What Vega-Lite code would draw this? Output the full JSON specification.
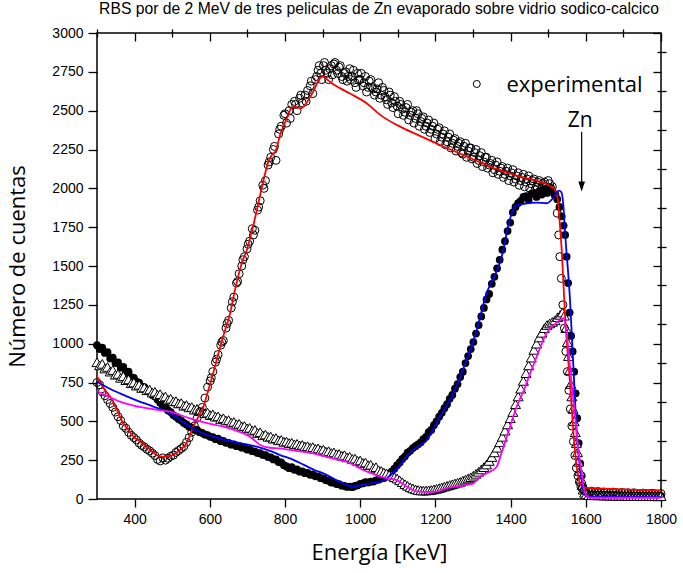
{
"$schema": "https://vega.github.io/schema/vega-lite/v6.json",
"width": 564, "height": 466,
"autosize": {"type": "none"},
"padding": {"left": 97, "top": 33, "right": 22, "bottom": 74},
"background": "white",
"title": {"text": "RBS por  de 2 MeV de tres peliculas de Zn evaporado sobre vidrio sodico-calcico", "font": "Liberation Sans", "fontSize": 15.7, "fontWeight": "normal", "color": "black", "anchor": "middle", "offset": 8},
"config": {"view": {"stroke": "black", "strokeWidth": 1.5}, "axis": {"grid": false, "domain": false, "labelFlush": false, "format": "d", "tickColor": "black", "tickWidth": 1.3, "labelColor": "black", "labelFont": "Liberation Sans", "labelFontSize": 14, "titleFont": "Open Sans", "titleFontSize": 22, "titleFontWeight": "normal", "titleColor": "black"}},
"datasets": {
"o": [{"e":300,"c":750},{"e":307,"c":735},{"e":314,"c":690},{"e":321,"c":665},{"e":328,"c":640},{"e":335,"c":615},{"e":342,"c":590},{"e":349,"c":560},{"e":356,"c":530},{"e":363,"c":505},{"e":370,"c":470},{"e":377,"c":455},{"e":384,"c":430},{"e":391,"c":410},{"e":398,"c":395},{"e":405,"c":380},{"e":412,"c":360},{"e":419,"c":345},{"e":426,"c":335},{"e":433,"c":320},{"e":440,"c":310},{"e":447,"c":295},{"e":454,"c":280},{"e":461,"c":255},{"e":468,"c":245},{"e":475,"c":265},{"e":482,"c":250},{"e":489,"c":262},{"e":496,"c":275},{"e":503,"c":282},{"e":510,"c":300},{"e":517,"c":312},{"e":524,"c":325},{"e":531,"c":338},{"e":538,"c":365},{"e":545,"c":395},{"e":552,"c":430},{"e":559,"c":470},{"e":566,"c":520},{"e":573,"c":560},{"e":580,"c":590},{"e":587,"c":650},{"e":594,"c":720},{"e":601,"c":760},{"e":604,"c":780},{"e":608,"c":820},{"e":615,"c":880},{"e":618,"c":900},{"e":622,"c":930},{"e":629,"c":990},{"e":632,"c":1010},{"e":636,"c":1020},{"e":643,"c":1100},{"e":646,"c":1130},{"e":650,"c":1150},{"e":657,"c":1230},{"e":660,"c":1270},{"e":664,"c":1300},{"e":671,"c":1390},{"e":674,"c":1400},{"e":678,"c":1450},{"e":685,"c":1500},{"e":688,"c":1540},{"e":692,"c":1560},{"e":699,"c":1610},{"e":702,"c":1640},{"e":706,"c":1660},{"e":713,"c":1740},{"e":716,"c":1700},{"e":720,"c":1730},{"e":727,"c":1860},{"e":730,"c":1880},{"e":734,"c":1920},{"e":741,"c":2020},{"e":744,"c":2000},{"e":748,"c":2050},{"e":755,"c":2150},{"e":758,"c":2170},{"e":762,"c":2200},{"e":769,"c":2250},{"e":772,"c":2270},{"e":776,"c":2180},{"e":783,"c":2350},{"e":786,"c":2380},{"e":790,"c":2400},{"e":797,"c":2470},{"e":800,"c":2480},{"e":804,"c":2420},{"e":811,"c":2500},{"e":814,"c":2450},{"e":818,"c":2540},{"e":825,"c":2560},{"e":828,"c":2540},{"e":832,"c":2500},{"e":839,"c":2580},{"e":842,"c":2600},{"e":846,"c":2550},{"e":853,"c":2600},{"e":856,"c":2560},{"e":860,"c":2630},{"e":867,"c":2660},{"e":870,"c":2690},{"e":874,"c":2610},{"e":881,"c":2700},{"e":884,"c":2720},{"e":888,"c":2760},{"e":891,"c":2790},{"e":895,"c":2740},{"e":898,"c":2700},{"e":902,"c":2790},{"e":905,"c":2810},{"e":909,"c":2760},{"e":912,"c":2740},{"e":916,"c":2700},{"e":919,"c":2770},{"e":923,"c":2790},{"e":926,"c":2730},{"e":930,"c":2800},{"e":933,"c":2810},{"e":937,"c":2760},{"e":940,"c":2740},{"e":944,"c":2780},{"e":947,"c":2790},{"e":951,"c":2720},{"e":954,"c":2700},{"e":958,"c":2740},{"e":961,"c":2750},{"e":965,"c":2690},{"e":968,"c":2720},{"e":972,"c":2770},{"e":975,"c":2700},{"e":979,"c":2720},{"e":982,"c":2760},{"e":986,"c":2680},{"e":989,"c":2650},{"e":993,"c":2740},{"e":996,"c":2700},{"e":1000,"c":2700},{"e":1003,"c":2740},{"e":1007,"c":2660},{"e":1010,"c":2680},{"e":1014,"c":2720},{"e":1017,"c":2620},{"e":1021,"c":2650},{"e":1024,"c":2690},{"e":1028,"c":2700},{"e":1031,"c":2650},{"e":1035,"c":2640},{"e":1038,"c":2600},{"e":1042,"c":2620},{"e":1045,"c":2640},{"e":1049,"c":2680},{"e":1052,"c":2580},{"e":1056,"c":2600},{"e":1059,"c":2650},{"e":1063,"c":2630},{"e":1066,"c":2590},{"e":1070,"c":2570},{"e":1073,"c":2540},{"e":1077,"c":2620},{"e":1080,"c":2600},{"e":1084,"c":2550},{"e":1087,"c":2520},{"e":1091,"c":2590},{"e":1094,"c":2560},{"e":1098,"c":2530},{"e":1101,"c":2480},{"e":1105,"c":2560},{"e":1108,"c":2540},{"e":1112,"c":2510},{"e":1115,"c":2470},{"e":1119,"c":2490},{"e":1122,"c":2520},{"e":1126,"c":2540},{"e":1129,"c":2440},{"e":1133,"c":2470},{"e":1136,"c":2490},{"e":1140,"c":2500},{"e":1143,"c":2420},{"e":1147,"c":2450},{"e":1150,"c":2500},{"e":1154,"c":2480},{"e":1157,"c":2400},{"e":1161,"c":2430},{"e":1164,"c":2450},{"e":1168,"c":2460},{"e":1171,"c":2380},{"e":1175,"c":2400},{"e":1178,"c":2420},{"e":1182,"c":2440},{"e":1185,"c":2360},{"e":1189,"c":2380},{"e":1192,"c":2400},{"e":1196,"c":2420},{"e":1199,"c":2320},{"e":1203,"c":2350},{"e":1206,"c":2380},{"e":1210,"c":2390},{"e":1213,"c":2300},{"e":1217,"c":2330},{"e":1220,"c":2350},{"e":1224,"c":2370},{"e":1227,"c":2280},{"e":1231,"c":2300},{"e":1234,"c":2330},{"e":1238,"c":2350},{"e":1241,"c":2260},{"e":1245,"c":2290},{"e":1248,"c":2310},{"e":1252,"c":2320},{"e":1255,"c":2240},{"e":1259,"c":2270},{"e":1262,"c":2290},{"e":1266,"c":2300},{"e":1269,"c":2230},{"e":1273,"c":2220},{"e":1276,"c":2270},{"e":1280,"c":2290},{"e":1283,"c":2200},{"e":1287,"c":2240},{"e":1290,"c":2260},{"e":1294,"c":2260},{"e":1297,"c":2190},{"e":1301,"c":2200},{"e":1304,"c":2230},{"e":1308,"c":2250},{"e":1311,"c":2160},{"e":1315,"c":2180},{"e":1318,"c":2210},{"e":1322,"c":2230},{"e":1325,"c":2140},{"e":1329,"c":2170},{"e":1332,"c":2200},{"e":1336,"c":2200},{"e":1339,"c":2130},{"e":1343,"c":2150},{"e":1346,"c":2160},{"e":1350,"c":2180},{"e":1353,"c":2100},{"e":1357,"c":2120},{"e":1360,"c":2150},{"e":1364,"c":2170},{"e":1367,"c":2090},{"e":1371,"c":2110},{"e":1374,"c":2130},{"e":1378,"c":2140},{"e":1381,"c":2070},{"e":1385,"c":2090},{"e":1388,"c":2110},{"e":1392,"c":2130},{"e":1395,"c":2050},{"e":1399,"c":2080},{"e":1402,"c":2100},{"e":1406,"c":2120},{"e":1409,"c":2040},{"e":1413,"c":2060},{"e":1416,"c":2080},{"e":1420,"c":2100},{"e":1423,"c":2020},{"e":1427,"c":2050},{"e":1430,"c":2070},{"e":1434,"c":2090},{"e":1437,"c":2010},{"e":1441,"c":2040},{"e":1444,"c":2060},{"e":1448,"c":2080},{"e":1451,"c":2000},{"e":1455,"c":2030},{"e":1458,"c":2050},{"e":1462,"c":2060},{"e":1465,"c":1990},{"e":1469,"c":2010},{"e":1472,"c":2040},{"e":1476,"c":2050},{"e":1479,"c":1980},{"e":1483,"c":2000},{"e":1486,"c":2030},{"e":1490,"c":2040},{"e":1493,"c":2010},{"e":1497,"c":1990},{"e":1500,"c":2050},{"e":1504,"c":2030},{"e":1507,"c":2000},{"e":1511,"c":2010},{"e":1518,"c":1960},{"e":1524,"c":1840},{"e":1528,"c":1700},{"e":1531,"c":1560},{"e":1535,"c":1420},{"e":1539,"c":1250},{"e":1543,"c":1100},{"e":1547,"c":950},{"e":1551,"c":820},{"e":1555,"c":700},{"e":1559,"c":580},{"e":1563,"c":470},{"e":1567,"c":370},{"e":1571,"c":280},{"e":1575,"c":200},{"e":1579,"c":150},{"e":1583,"c":110},{"e":1587,"c":80},{"e":1591,"c":65},{"e":1595,"c":55},{"e":1600,"c":50},{"e":1608,"c":45},{"e":1616,"c":50},{"e":1624,"c":42},{"e":1632,"c":48},{"e":1640,"c":40},{"e":1648,"c":45},{"e":1656,"c":42},{"e":1664,"c":38},{"e":1672,"c":44},{"e":1680,"c":40},{"e":1688,"c":36},{"e":1696,"c":42},{"e":1704,"c":38},{"e":1712,"c":40},{"e":1720,"c":35},{"e":1728,"c":40},{"e":1736,"c":37},{"e":1744,"c":34},{"e":1752,"c":38},{"e":1760,"c":35},{"e":1768,"c":33},{"e":1776,"c":37},{"e":1784,"c":34},{"e":1792,"c":32},{"e":1800,"c":35}],
"f": [{"e":300,"c":990},{"e":307,"c":965},{"e":314,"c":975},{"e":321,"c":940},{"e":328,"c":945},{"e":335,"c":905},{"e":342,"c":910},{"e":349,"c":875},{"e":356,"c":880},{"e":363,"c":845},{"e":370,"c":850},{"e":377,"c":815},{"e":384,"c":820},{"e":391,"c":785},{"e":398,"c":780},{"e":405,"c":755},{"e":412,"c":750},{"e":419,"c":725},{"e":426,"c":720},{"e":433,"c":695},{"e":440,"c":690},{"e":447,"c":670},{"e":454,"c":660},{"e":461,"c":640},{"e":468,"c":620},{"e":475,"c":600},{"e":482,"c":590},{"e":489,"c":570},{"e":496,"c":560},{"e":503,"c":540},{"e":510,"c":530},{"e":517,"c":515},{"e":524,"c":505},{"e":531,"c":490},{"e":538,"c":480},{"e":545,"c":465},{"e":552,"c":460},{"e":559,"c":445},{"e":566,"c":445},{"e":573,"c":430},{"e":580,"c":425},{"e":587,"c":415},{"e":594,"c":412},{"e":601,"c":400},{"e":608,"c":398},{"e":615,"c":385},{"e":622,"c":388},{"e":629,"c":372},{"e":636,"c":375},{"e":643,"c":362},{"e":650,"c":362},{"e":657,"c":350},{"e":664,"c":352},{"e":671,"c":340},{"e":678,"c":342},{"e":685,"c":330},{"e":692,"c":332},{"e":699,"c":318},{"e":706,"c":320},{"e":713,"c":308},{"e":720,"c":305},{"e":727,"c":296},{"e":734,"c":295},{"e":741,"c":284},{"e":748,"c":282},{"e":755,"c":270},{"e":762,"c":268},{"e":769,"c":255},{"e":776,"c":255},{"e":783,"c":238},{"e":790,"c":235},{"e":797,"c":218},{"e":804,"c":210},{"e":811,"c":198},{"e":818,"c":205},{"e":825,"c":188},{"e":832,"c":190},{"e":839,"c":176},{"e":846,"c":178},{"e":853,"c":166},{"e":860,"c":168},{"e":867,"c":156},{"e":874,"c":158},{"e":881,"c":146},{"e":888,"c":146},{"e":895,"c":134},{"e":902,"c":132},{"e":909,"c":120},{"e":916,"c":118},{"e":923,"c":106},{"e":930,"c":106},{"e":937,"c":96},{"e":944,"c":95},{"e":951,"c":86},{"e":958,"c":85},{"e":965,"c":78},{"e":972,"c":80},{"e":979,"c":76},{"e":986,"c":84},{"e":993,"c":88},{"e":1000,"c":98},{"e":1007,"c":100},{"e":1014,"c":108},{"e":1021,"c":106},{"e":1028,"c":112},{"e":1035,"c":112},{"e":1042,"c":120},{"e":1049,"c":124},{"e":1056,"c":132},{"e":1063,"c":135},{"e":1070,"c":148},{"e":1077,"c":160},{"e":1084,"c":178},{"e":1091,"c":195},{"e":1098,"c":218},{"e":1105,"c":235},{"e":1112,"c":258},{"e":1119,"c":275},{"e":1126,"c":298},{"e":1133,"c":310},{"e":1140,"c":328},{"e":1147,"c":340},{"e":1154,"c":352},{"e":1161,"c":365},{"e":1168,"c":385},{"e":1175,"c":400},{"e":1182,"c":430},{"e":1189,"c":445},{"e":1196,"c":475},{"e":1203,"c":500},{"e":1210,"c":530},{"e":1217,"c":555},{"e":1224,"c":585},{"e":1231,"c":610},{"e":1238,"c":645},{"e":1245,"c":670},{"e":1252,"c":710},{"e":1259,"c":740},{"e":1266,"c":785},{"e":1273,"c":820},{"e":1280,"c":875},{"e":1287,"c":920},{"e":1294,"c":965},{"e":1301,"c":1010},{"e":1308,"c":1065},{"e":1315,"c":1120},{"e":1322,"c":1175},{"e":1329,"c":1230},{"e":1336,"c":1285},{"e":1343,"c":1320},{"e":1350,"c":1385},{"e":1357,"c":1430},{"e":1364,"c":1485},{"e":1371,"c":1540},{"e":1378,"c":1605},{"e":1385,"c":1660},{"e":1392,"c":1725},{"e":1399,"c":1780},{"e":1406,"c":1845},{"e":1413,"c":1880},{"e":1420,"c":1905},{"e":1427,"c":1920},{"e":1434,"c":1945},{"e":1441,"c":1950},{"e":1448,"c":1925},{"e":1455,"c":1965},{"e":1462,"c":1970},{"e":1469,"c":1945},{"e":1476,"c":1980},{"e":1483,"c":1960},{"e":1490,"c":1995},{"e":1497,"c":1970},{"e":1504,"c":2005},{"e":1511,"c":1980},{"e":1518,"c":1955},{"e":1524,"c":1930},{"e":1530,"c":1880},{"e":1536,"c":1820},{"e":1541,"c":1760},{"e":1545,"c":1700},{"e":1549,"c":1560},{"e":1553,"c":1390},{"e":1557,"c":1200},{"e":1561,"c":1050},{"e":1565,"c":950},{"e":1569,"c":820},{"e":1573,"c":680},{"e":1577,"c":520},{"e":1581,"c":360},{"e":1585,"c":230},{"e":1589,"c":150},{"e":1593,"c":80},{"e":1597,"c":50},{"e":1601,"c":35},{"e":1608,"c":30},{"e":1616,"c":28},{"e":1624,"c":30},{"e":1632,"c":26},{"e":1640,"c":28},{"e":1648,"c":25},{"e":1656,"c":27},{"e":1664,"c":24},{"e":1672,"c":26},{"e":1680,"c":23},{"e":1688,"c":25},{"e":1696,"c":22},{"e":1704,"c":24},{"e":1712,"c":22},{"e":1720,"c":23},{"e":1728,"c":21},{"e":1736,"c":22},{"e":1744,"c":20},{"e":1752,"c":22},{"e":1760,"c":20},{"e":1768,"c":21},{"e":1776,"c":19},{"e":1784,"c":20},{"e":1792,"c":19},{"e":1800,"c":20}],
"t": [{"e":300,"c":880},{"e":307,"c":860},{"e":314,"c":870},{"e":321,"c":840},{"e":328,"c":850},{"e":335,"c":820},{"e":342,"c":830},{"e":349,"c":800},{"e":356,"c":805},{"e":363,"c":780},{"e":370,"c":790},{"e":377,"c":765},{"e":384,"c":770},{"e":391,"c":745},{"e":398,"c":750},{"e":405,"c":730},{"e":412,"c":735},{"e":419,"c":715},{"e":426,"c":718},{"e":433,"c":700},{"e":440,"c":705},{"e":447,"c":685},{"e":454,"c":690},{"e":461,"c":670},{"e":468,"c":675},{"e":475,"c":655},{"e":482,"c":660},{"e":489,"c":640},{"e":496,"c":645},{"e":503,"c":628},{"e":510,"c":630},{"e":517,"c":615},{"e":524,"c":618},{"e":531,"c":600},{"e":538,"c":605},{"e":545,"c":590},{"e":552,"c":592},{"e":559,"c":575},{"e":566,"c":580},{"e":573,"c":565},{"e":580,"c":566},{"e":587,"c":552},{"e":594,"c":556},{"e":601,"c":540},{"e":608,"c":545},{"e":615,"c":530},{"e":622,"c":532},{"e":629,"c":515},{"e":636,"c":520},{"e":643,"c":505},{"e":650,"c":508},{"e":657,"c":492},{"e":664,"c":496},{"e":671,"c":480},{"e":678,"c":484},{"e":685,"c":468},{"e":692,"c":470},{"e":699,"c":455},{"e":706,"c":458},{"e":713,"c":440},{"e":720,"c":445},{"e":727,"c":425},{"e":734,"c":430},{"e":741,"c":410},{"e":748,"c":415},{"e":755,"c":400},{"e":762,"c":402},{"e":769,"c":388},{"e":776,"c":392},{"e":783,"c":378},{"e":790,"c":380},{"e":797,"c":368},{"e":804,"c":370},{"e":811,"c":360},{"e":818,"c":362},{"e":825,"c":352},{"e":832,"c":355},{"e":839,"c":345},{"e":846,"c":348},{"e":853,"c":338},{"e":860,"c":340},{"e":867,"c":330},{"e":874,"c":334},{"e":881,"c":322},{"e":888,"c":326},{"e":895,"c":314},{"e":902,"c":318},{"e":909,"c":305},{"e":916,"c":308},{"e":923,"c":296},{"e":930,"c":300},{"e":937,"c":288},{"e":944,"c":290},{"e":951,"c":278},{"e":958,"c":282},{"e":965,"c":268},{"e":972,"c":272},{"e":979,"c":258},{"e":986,"c":260},{"e":993,"c":245},{"e":1000,"c":248},{"e":1007,"c":232},{"e":1014,"c":235},{"e":1021,"c":218},{"e":1028,"c":220},{"e":1035,"c":200},{"e":1042,"c":205},{"e":1049,"c":185},{"e":1056,"c":180},{"e":1063,"c":170},{"e":1070,"c":165},{"e":1077,"c":155},{"e":1084,"c":150},{"e":1091,"c":140},{"e":1098,"c":132},{"e":1105,"c":120},{"e":1112,"c":108},{"e":1119,"c":95},{"e":1126,"c":85},{"e":1133,"c":75},{"e":1140,"c":68},{"e":1147,"c":62},{"e":1154,"c":58},{"e":1161,"c":55},{"e":1168,"c":54},{"e":1175,"c":55},{"e":1182,"c":56},{"e":1189,"c":58},{"e":1196,"c":62},{"e":1203,"c":65},{"e":1210,"c":70},{"e":1217,"c":75},{"e":1224,"c":80},{"e":1231,"c":85},{"e":1238,"c":90},{"e":1245,"c":95},{"e":1252,"c":100},{"e":1259,"c":105},{"e":1266,"c":110},{"e":1273,"c":118},{"e":1280,"c":125},{"e":1287,"c":132},{"e":1294,"c":140},{"e":1301,"c":150},{"e":1308,"c":162},{"e":1315,"c":175},{"e":1322,"c":190},{"e":1329,"c":205},{"e":1336,"c":222},{"e":1343,"c":245},{"e":1350,"c":270},{"e":1357,"c":300},{"e":1364,"c":330},{"e":1371,"c":365},{"e":1378,"c":400},{"e":1385,"c":440},{"e":1392,"c":480},{"e":1399,"c":520},{"e":1406,"c":560},{"e":1413,"c":610},{"e":1420,"c":660},{"e":1427,"c":710},{"e":1434,"c":760},{"e":1441,"c":810},{"e":1448,"c":860},{"e":1455,"c":910},{"e":1462,"c":960},{"e":1469,"c":1000},{"e":1476,"c":1040},{"e":1483,"c":1070},{"e":1490,"c":1100},{"e":1497,"c":1120},{"e":1504,"c":1130},{"e":1511,"c":1140},{"e":1518,"c":1150},{"e":1525,"c":1170},{"e":1532,"c":1185},{"e":1538,"c":1200},{"e":1543,"c":1180},{"e":1547,"c":1100},{"e":1551,"c":1010},{"e":1554,"c":920},{"e":1557,"c":830},{"e":1560,"c":740},{"e":1563,"c":660},{"e":1566,"c":580},{"e":1569,"c":500},{"e":1572,"c":430},{"e":1575,"c":360},{"e":1578,"c":300},{"e":1581,"c":240},{"e":1584,"c":180},{"e":1587,"c":130},{"e":1590,"c":90},{"e":1593,"c":60},{"e":1597,"c":40},{"e":1601,"c":30},{"e":1608,"c":25},{"e":1616,"c":24},{"e":1624,"c":25},{"e":1632,"c":23},{"e":1640,"c":24},{"e":1648,"c":22},{"e":1656,"c":23},{"e":1664,"c":21},{"e":1672,"c":22},{"e":1680,"c":20},{"e":1688,"c":21},{"e":1696,"c":20},{"e":1704,"c":21},{"e":1712,"c":19},{"e":1720,"c":20},{"e":1728,"c":19},{"e":1736,"c":20},{"e":1744,"c":18},{"e":1752,"c":19},{"e":1760,"c":18},{"e":1768,"c":19},{"e":1776,"c":18},{"e":1784,"c":18},{"e":1792,"c":17},{"e":1800,"c":18}],
"r": [{"e":300,"c":790},{"e":310,"c":745},{"e":320,"c":705},{"e":335,"c":659},{"e":350,"c":590},{"e":370,"c":487},{"e":385,"c":440},{"e":397,"c":401},{"e":415,"c":370},{"e":432,"c":337},{"e":445,"c":310},{"e":459,"c":283},{"e":475,"c":272},{"e":494,"c":277},{"e":508,"c":292},{"e":521,"c":316},{"e":530,"c":335},{"e":538,"c":359},{"e":547,"c":410},{"e":556,"c":466},{"e":570,"c":530},{"e":583,"c":594},{"e":596,"c":700},{"e":609,"c":809},{"e":622,"c":930},{"e":636,"c":1050},{"e":654,"c":1196},{"e":667,"c":1346},{"e":685,"c":1518},{"e":698,"c":1600},{"e":716,"c":1764},{"e":738,"c":2001},{"e":756,"c":2172},{"e":765,"c":2215},{"e":775,"c":2240},{"e":787,"c":2344},{"e":805,"c":2451},{"e":815,"c":2510},{"e":822,"c":2526},{"e":835,"c":2518},{"e":845,"c":2516},{"e":853,"c":2537},{"e":875,"c":2623},{"e":893,"c":2709},{"e":900,"c":2720},{"e":906,"c":2712},{"e":920,"c":2685},{"e":946,"c":2645},{"e":973,"c":2610},{"e":1017,"c":2548},{"e":1053,"c":2473},{"e":1106,"c":2397},{"e":1159,"c":2338},{"e":1212,"c":2279},{"e":1274,"c":2215},{"e":1345,"c":2140},{"e":1425,"c":2075},{"e":1505,"c":2015},{"e":1518,"c":1990},{"e":1525,"c":1940},{"e":1530,"c":1800},{"e":1536,"c":1600},{"e":1545,"c":1174},{"e":1558,"c":745},{"e":1571,"c":316},{"e":1584,"c":103},{"e":1598,"c":71},{"e":1700,"c":62},{"e":1800,"c":53}],
"b": [{"e":300,"c":755},{"e":330,"c":715},{"e":361,"c":680},{"e":400,"c":640},{"e":450,"c":595},{"e":494,"c":552},{"e":520,"c":510},{"e":547,"c":466},{"e":575,"c":430},{"e":609,"c":401},{"e":650,"c":375},{"e":690,"c":355},{"e":725,"c":337},{"e":760,"c":310},{"e":787,"c":283},{"e":813,"c":262},{"e":850,"c":220},{"e":880,"c":185},{"e":902,"c":165},{"e":930,"c":130},{"e":960,"c":95},{"e":982,"c":79},{"e":1000,"c":88},{"e":1017,"c":97},{"e":1053,"c":111},{"e":1079,"c":150},{"e":1100,"c":200},{"e":1120,"c":265},{"e":1141,"c":316},{"e":1159,"c":345},{"e":1177,"c":380},{"e":1195,"c":450},{"e":1212,"c":530},{"e":1230,"c":600},{"e":1248,"c":681},{"e":1265,"c":780},{"e":1283,"c":895},{"e":1300,"c":1010},{"e":1310,"c":1088},{"e":1336,"c":1325},{"e":1354,"c":1420},{"e":1370,"c":1510},{"e":1380,"c":1595},{"e":1392,"c":1740},{"e":1403,"c":1840},{"e":1416,"c":1890},{"e":1440,"c":1902},{"e":1469,"c":1908},{"e":1496,"c":1904},{"e":1512,"c":1935},{"e":1522,"c":1970},{"e":1529,"c":1985},{"e":1535,"c":1975},{"e":1540,"c":1900},{"e":1545,"c":1711},{"e":1558,"c":1281},{"e":1567,"c":852},{"e":1576,"c":423},{"e":1589,"c":122},{"e":1602,"c":15},{"e":1700,"c":12},{"e":1800,"c":12}],
"m": [{"e":300,"c":695},{"e":330,"c":660},{"e":361,"c":627},{"e":400,"c":600},{"e":450,"c":578},{"e":494,"c":562},{"e":547,"c":519},{"e":590,"c":490},{"e":636,"c":466},{"e":670,"c":440},{"e":707,"c":401},{"e":720,"c":375},{"e":734,"c":348},{"e":760,"c":330},{"e":787,"c":326},{"e":813,"c":316},{"e":845,"c":305},{"e":875,"c":294},{"e":920,"c":265},{"e":964,"c":240},{"e":990,"c":210},{"e":1008,"c":187},{"e":1030,"c":165},{"e":1053,"c":144},{"e":1075,"c":133},{"e":1097,"c":122},{"e":1112,"c":100},{"e":1124,"c":79},{"e":1141,"c":58},{"e":1159,"c":47},{"e":1180,"c":45},{"e":1203,"c":47},{"e":1230,"c":70},{"e":1256,"c":79},{"e":1280,"c":90},{"e":1301,"c":101},{"e":1319,"c":144},{"e":1340,"c":170},{"e":1363,"c":208},{"e":1375,"c":290},{"e":1390,"c":401},{"e":1416,"c":594},{"e":1435,"c":700},{"e":1452,"c":809},{"e":1470,"c":920},{"e":1487,"c":1024},{"e":1505,"c":1099},{"e":1520,"c":1130},{"e":1541,"c":1164},{"e":1549,"c":1067},{"e":1562,"c":745},{"e":1573,"c":500},{"e":1580,"c":316},{"e":1589,"c":170},{"e":1598,"c":37},{"e":1611,"c":8},{"e":1700,"c":8},{"e":1800,"c":8}]
},
"resolve": {"axis": {"x": "independent", "y": "independent"}},
"layer": [
{"data": {"name": "f"}, "mark": {"type": "point", "shape": "circle", "filled": true, "color": "black", "size": 60, "opacity": 1},
 "encoding": {
  "x": {"field": "e", "type": "quantitative", "scale": {"domain": [300, 1800], "nice": false, "zero": false}, "axis": {"values": [400, 600, 800, 1000, 1200, 1400, 1600, 1800], "tickSize": 8, "labelPadding": 5, "title": "Energía [KeV]", "titlePadding": 16}},
  "y": {"field": "c", "type": "quantitative", "scale": {"domain": [0, 3000], "nice": false}, "axis": {"values": [0, 250, 500, 750, 1000, 1250, 1500, 1750, 2000, 2250, 2500, 2750, 3000], "tickSize": 9, "labelPadding": 5, "title": "Número de cuentas", "titlePadding": 22}}
 }},
{"data": {"name": "t"}, "mark": {"type": "point", "shape": "triangle-up", "filled": true, "fill": "white", "stroke": "black", "strokeWidth": 1, "size": 100, "opacity": 1},
 "encoding": {
  "x": {"field": "e", "type": "quantitative", "scale": {"domain": [300, 1800], "nice": false, "zero": false}, "axis": {"values": [300, 500, 700, 900, 1100, 1300, 1500, 1700], "tickSize": 4, "labels": false, "title": null}},
  "y": {"field": "c", "type": "quantitative", "scale": {"domain": [0, 3000], "nice": false}, "axis": {"values": [125, 375, 625, 875, 1125, 1375, 1625, 1875, 2125, 2375, 2625, 2875], "tickSize": 5, "labels": false, "title": null}}
 }},
{"data": {"name": "o"}, "mark": {"type": "point", "shape": "circle", "filled": false, "stroke": "black", "strokeWidth": 1, "size": 64, "opacity": 1},
 "encoding": {
  "x": {"field": "e", "type": "quantitative", "scale": {"domain": [300, 1800], "nice": false, "zero": false}, "axis": {"orient": "top", "values": [400, 600, 800, 1000, 1200, 1400, 1600, 1800], "tickSize": -8, "labels": false, "title": null}},
  "y": {"field": "c", "type": "quantitative", "scale": {"domain": [0, 3000], "nice": false}, "axis": {"orient": "right", "values": [0, 250, 500, 750, 1000, 1250, 1500, 1750, 2000, 2250, 2500, 2750, 3000], "tickSize": -8, "labels": false, "title": null}}
 }},
{"data": {"name": "r"}, "mark": {"type": "line", "color": "#ff0000", "strokeWidth": 1.8, "interpolate": "monotone"},
 "encoding": {
  "x": {"field": "e", "type": "quantitative", "scale": {"domain": [300, 1800], "nice": false, "zero": false}, "axis": {"orient": "top", "values": [300, 500, 700, 900, 1100, 1300, 1500, 1700], "tickSize": -4, "labels": false, "title": null}},
  "y": {"field": "c", "type": "quantitative", "scale": {"domain": [0, 3000], "nice": false}, "axis": {"orient": "right", "values": [125, 375, 625, 875, 1125, 1375, 1625, 1875, 2125, 2375, 2625, 2875], "tickSize": -4, "labels": false, "title": null}}
 }},
{"data": {"name": "b"}, "mark": {"type": "line", "color": "#0000ff", "strokeWidth": 1.8, "interpolate": "monotone"},
 "encoding": {
  "x": {"field": "e", "type": "quantitative", "scale": {"domain": [300, 1800], "nice": false, "zero": false}, "axis": null},
  "y": {"field": "c", "type": "quantitative", "scale": {"domain": [0, 3000], "nice": false}, "axis": null}
 }},
{"data": {"name": "m"}, "mark": {"type": "line", "color": "#ff00ff", "strokeWidth": 1.8, "interpolate": "monotone"},
 "encoding": {
  "x": {"field": "e", "type": "quantitative", "scale": {"domain": [300, 1800], "nice": false, "zero": false}, "axis": null},
  "y": {"field": "c", "type": "quantitative", "scale": {"domain": [0, 3000], "nice": false}, "axis": null}
 }},
{"data": {"values": [{"e": 1310, "c": 2672}]}, "mark": {"type": "point", "shape": "circle", "filled": false, "stroke": "black", "strokeWidth": 1, "size": 50, "opacity": 1},
 "encoding": {
  "x": {"field": "e", "type": "quantitative", "scale": {"domain": [300, 1800], "nice": false, "zero": false}, "axis": null},
  "y": {"field": "c", "type": "quantitative", "scale": {"domain": [0, 3000], "nice": false}, "axis": null}
 }},
{"data": {"values": [{"e": 1389, "c": 2623, "t": "experimental"}]}, "mark": {"type": "text", "font": "Open Sans", "fontSize": 22, "color": "black", "align": "left", "baseline": "alphabetic"},
 "encoding": {
  "x": {"field": "e", "type": "quantitative", "scale": {"domain": [300, 1800], "nice": false, "zero": false}, "axis": null},
  "y": {"field": "c", "type": "quantitative", "scale": {"domain": [0, 3000], "nice": false}, "axis": null},
  "text": {"field": "t"}
 }},
{"data": {"values": [{"e": 1585, "c": 2395, "t": "Zn"}]}, "mark": {"type": "text", "font": "Open Sans", "fontSize": 21, "color": "black", "align": "center", "baseline": "alphabetic"},
 "encoding": {
  "x": {"field": "e", "type": "quantitative", "scale": {"domain": [300, 1800], "nice": false, "zero": false}, "axis": null},
  "y": {"field": "c", "type": "quantitative", "scale": {"domain": [0, 3000], "nice": false}, "axis": null},
  "text": {"field": "t"}
 }},
{"data": {"values": [{"e": 1589, "c": 2365, "c2": 2040}]}, "mark": {"type": "rule", "color": "black", "strokeWidth": 1.2},
 "encoding": {
  "x": {"field": "e", "type": "quantitative", "scale": {"domain": [300, 1800], "nice": false, "zero": false}, "axis": null},
  "y": {"field": "c", "type": "quantitative", "scale": {"domain": [0, 3000], "nice": false}, "axis": null},
  "y2": {"field": "c2"}
 }},
{"data": {"values": [{"e": 1589, "c": 2011}]}, "mark": {"type": "point", "shape": "M-0.67,-1L0.67,-1L0,1Z", "filled": true, "color": "black", "size": 100, "opacity": 1},
 "encoding": {
  "x": {"field": "e", "type": "quantitative", "scale": {"domain": [300, 1800], "nice": false, "zero": false}, "axis": null},
  "y": {"field": "c", "type": "quantitative", "scale": {"domain": [0, 3000], "nice": false}, "axis": null}
 }}
]
}
